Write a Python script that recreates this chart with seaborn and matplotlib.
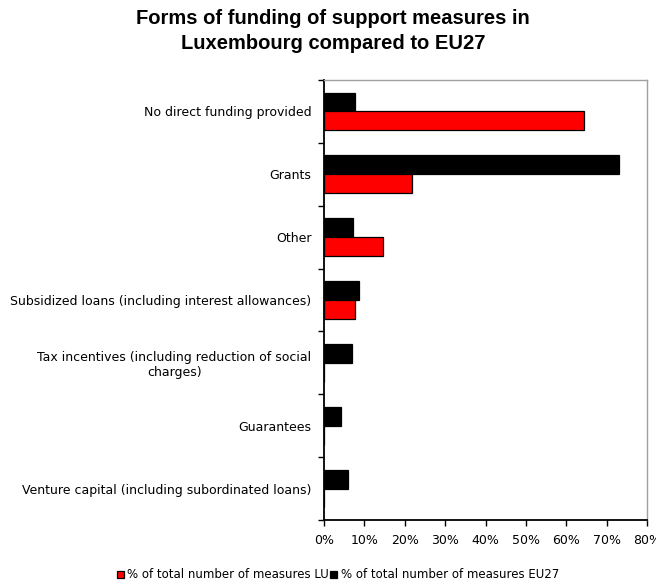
import matplotlib
matplotlib.use("Agg")
import matplotlib.pyplot as plt
import matplotlib.ticker as mticker
import pandas as pd
import seaborn as sns

categories = [
    "No direct funding provided",
    "Grants",
    "Other",
    "Subsidized loans (including interest allowances)",
    "Tax incentives (including reduction of social\ncharges)",
    "Guarantees",
    "Venture capital (including subordinated loans)",
]
share_lu = [64.3, 21.8, 14.7, 7.7, 0.0, 0.0, 0.0]
share_eu27 = [7.7, 73.0, 7.3, 8.7, 6.9, 4.2, 6.0]

label_lu = "% of total number of measures LU"
label_eu = "% of total number of measures EU27"

df = pd.DataFrame({
    "category": categories * 2,
    "value": share_eu27 + share_lu,
    "series": [label_eu] * len(categories) + [label_lu] * len(categories),
})

sns.set_theme(style="white")
plt.rcParams["font.family"] = ["DejaVu Sans"]
plt.rcParams["text.color"] = "black"
plt.rcParams["xtick.color"] = "black"
plt.rcParams["ytick.color"] = "black"

fig = plt.figure(figsize=(6.56, 5.87), dpi=100)
ax = fig.add_axes([324 / 656, 1 - 520 / 587, 323 / 656, 440 / 587])

sns.barplot(
    data=df, x="value", y="category", hue="series",
    hue_order=[label_eu, label_lu], palette=["black", "#ff0000"],
    saturation=1, order=categories, orient="h", width=0.6,
    edgecolor="black", linewidth=0.9, ax=ax,
)

ax.set_xlim(0, 80)
ax.set_xticks(range(0, 81, 10))
ax.xaxis.set_major_formatter(mticker.FuncFormatter(lambda v, _: f"{v:.0f}%"))
ax.set_xlabel("")
ax.set_ylabel("")

# category labels centred on the groups, tick marks on the group boundaries
ax.set_ylim(len(categories) - 0.5, -0.5)
ax.tick_params(axis="y", which="major", length=0, labelsize=9, pad=9,
               labelcolor="black")
for lbl in ax.get_yticklabels():
    lbl.set_multialignment("center")
ax.set_yticks([i - 0.5 for i in range(len(categories) + 1)], minor=True)
ax.tick_params(axis="y", which="minor", left=True, length=4, width=1, color="black")
ax.tick_params(axis="x", which="major", bottom=True, length=4, width=1,
               color="black", labelsize=9, pad=6, labelcolor="black")

for side in ("left", "bottom"):
    ax.spines[side].set_color("black")
    ax.spines[side].set_linewidth(1.3)
for side in ("top", "right"):
    ax.spines[side].set_color("#a0a0a0")
    ax.spines[side].set_linewidth(1.0)

handles, labels = ax.get_legend_handles_labels()
ax.get_legend().remove()
order = [labels.index(label_lu), labels.index(label_eu)]
fig.legend(
    [handles[i] for i in order], [labels[i] for i in order],
    loc="center", bbox_to_anchor=(338 / 656, 1 - 575 / 587), ncol=2,
    frameon=False, fontsize=8.5, handlelength=0.6, handleheight=0.6,
    handletextpad=0.3, columnspacing=0.1,
)

fig.text(333 / 656, 1 - 31 / 587,
         "Forms of funding of support measures in\nLuxembourg compared to EU27",
         ha="center", va="center", fontsize=14.5, fontweight="bold",
         color="black", family=["Liberation Sans", "DejaVu Sans"],
         linespacing=1.35)

fig.savefig("out.png", dpi=100)
